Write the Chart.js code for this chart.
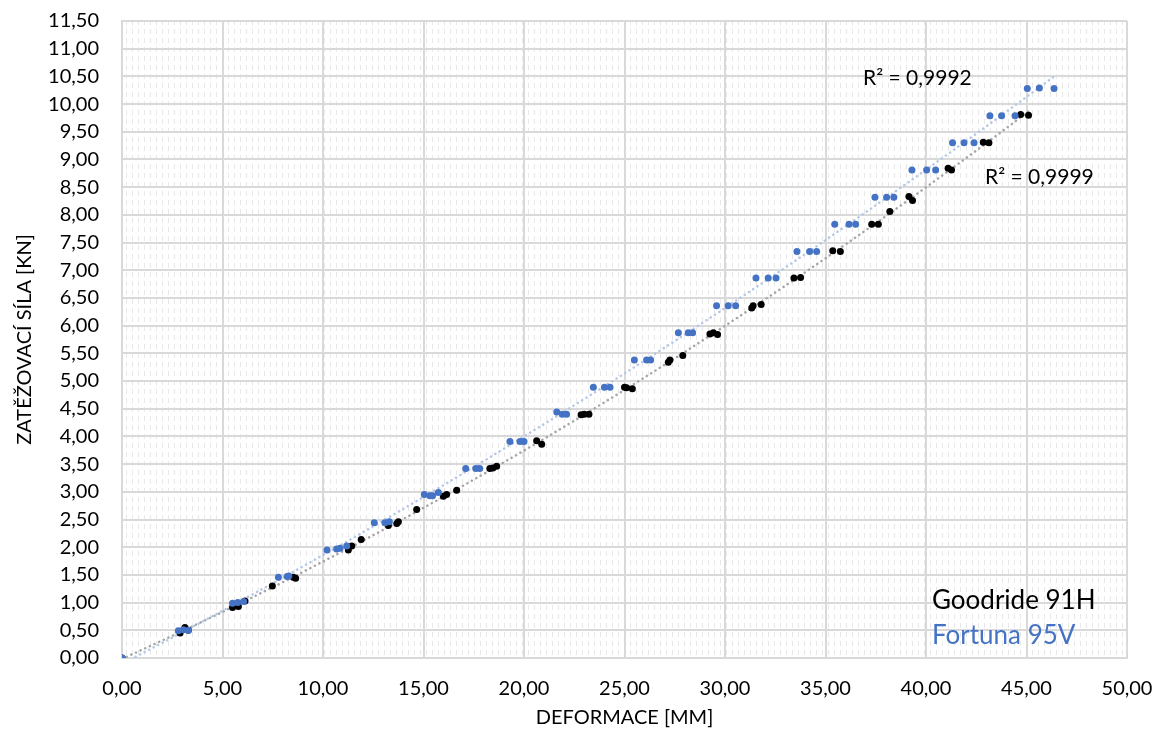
<!DOCTYPE html>
<html>
<head>
<meta charset="utf-8">
<script src="https://cdn.jsdelivr.net/npm/chart.js@4.4.1/dist/chart.umd.min.js"></script>
<style>
  html, body { margin: 0; padding: 0; background: #fff; }
  #wrap { width: 1170px; height: 740px; }
</style>
</head>
<body>
<div id="wrap"><canvas id="chart" width="1170" height="740"></canvas></div>
<script>
// Goodride 91H (black) - deformation [mm], force [kN]
const goodrideX = [0, 2.89, 3.13, 3.30, 5.50, 5.79, 6.12, 7.48, 8.52, 8.64, 11.26, 11.43, 11.90,
    13.25, 13.67, 13.75, 14.66, 15.99, 16.15, 16.65, 18.30, 18.45, 18.64, 20.63, 20.88,
    22.84, 23.00, 23.23, 25.00, 25.10, 25.39, 27.18, 27.26, 27.90, 29.25, 29.42, 29.63,
    31.33, 31.40, 31.80, 33.43, 33.76, 35.36, 35.74, 37.30, 37.63, 38.20, 39.15, 39.33,
    41.10, 41.27, 42.85, 43.13, 44.71, 45.10];
const goodrideY = [0, 0.45, 0.55, 0.50, 0.91, 0.93, 1.03, 1.30, 1.46, 1.44, 1.95, 2.02, 2.14,
    2.39, 2.43, 2.46, 2.68, 2.92, 2.95, 3.03, 3.42, 3.43, 3.46, 3.92, 3.86,
    4.39, 4.40, 4.40, 4.89, 4.88, 4.86, 5.34, 5.38, 5.46, 5.85, 5.87, 5.84,
    6.32, 6.36, 6.38, 6.86, 6.87, 7.35, 7.34, 7.83, 7.83, 8.06, 8.33, 8.26,
    8.84, 8.81, 9.31, 9.30, 9.81, 9.80];

// Fortuna 95V (blue)
const fortunaX = [0, 2.80, 3.05, 3.30, 5.50, 5.76, 6.05, 7.78, 8.22, 8.30, 10.20, 10.68, 10.85, 11.18,
    12.55, 13.08, 13.30, 15.04, 15.32, 15.45, 15.74, 17.10, 17.60, 17.80, 19.30, 19.80, 20.00,
    21.63, 21.90, 22.12, 23.45, 24.00, 24.28, 25.49, 26.10, 26.30, 27.68, 28.17, 28.39,
    29.58, 30.16, 30.53, 31.54, 32.15, 32.54, 33.58, 34.21, 34.56, 35.46, 36.17, 36.50,
    37.46, 38.04, 38.40, 39.30, 40.03, 40.48, 41.32, 41.89, 42.39, 43.18, 43.76, 44.43,
    45.04, 45.64, 46.37];
const fortunaY = [0, 0.49, 0.51, 0.50, 0.99, 1.00, 1.02, 1.46, 1.47, 1.48, 1.95, 1.97, 1.98, 2.02,
    2.44, 2.44, 2.46, 2.95, 2.93, 2.93, 2.99, 3.42, 3.42, 3.42, 3.91, 3.91, 3.91,
    4.44, 4.40, 4.40, 4.89, 4.89, 4.89, 5.38, 5.38, 5.38, 5.87, 5.87, 5.87,
    6.36, 6.36, 6.36, 6.86, 6.86, 6.86, 7.34, 7.34, 7.34, 7.83, 7.83, 7.83,
    8.32, 8.32, 8.32, 8.81, 8.81, 8.81, 9.30, 9.30, 9.30, 9.79, 9.79, 9.79,
    10.28, 10.29, 10.28];

const seriesNames = ["Goodride 91H", "Fortuna 95V"];
const r2Labels = ["R\u00B2 = 0,9999", "R\u00B2 = 0,9992"];
const xTitle = "DEFORMACE [MM]";
const yTitle = "ZATĚŽOVACÍ SÍLA [KN]";

const BLUE = '#4472c4';
const FONT = 'Lato, "Open Sans", sans-serif';

function toPoints(xs, ys) {
    return xs.map((x, i) => ({x: x, y: ys[i]}));
}

// 2nd order polynomial trendline (least squares), evaluated at the data's own x values
function trendline(xs, ys) {
    let s = [0, 0, 0, 0, 0], t = [0, 0, 0];
    for (let i = 0; i < xs.length; i++) {
        let p = 1;
        for (let k = 0; k < 5; k++) {
            s[k] += p;
            if (k < 3) t[k] += p * ys[i];
            p *= xs[i];
        }
    }
    let m = [
        [s[0], s[1], s[2], t[0]],
        [s[1], s[2], s[3], t[1]],
        [s[2], s[3], s[4], t[2]]
    ];
    for (let c = 0; c < 3; c++) {
        for (let r = c + 1; r < 3; r++) {
            let f = m[r][c] / m[c][c];
            for (let j = c; j < 4; j++) m[r][j] -= f * m[c][j];
        }
    }
    let coef = [0, 0, 0];
    for (let r = 2; r >= 0; r--) {
        let v = m[r][3];
        for (let j = r + 1; j < 3; j++) v -= m[r][j] * coef[j];
        coef[r] = v / m[r][r];
    }
    let sorted = [...xs].sort((a, b) => a - b);
    return sorted.map(x => ({x: x, y: coef[0] + coef[1] * x + coef[2] * x * x}));
}

function fmt(v) {
    return Number(v).toFixed(2).replace('.', ',');
}

// light hatched texture behind the plot
function makePattern(ctx) {
    let c = document.createElement('canvas');
    c.width = 6; c.height = 9;
    let p = c.getContext('2d');
    p.fillStyle = '#e8e8e8';
    p.fillRect(0, 2, 1, 5);
    return ctx.createPattern(c, 'repeat');
}

const backgroundPlugin = {
    id: 'plotBackground',
    beforeDraw(chart) {
        let {ctx, chartArea: a} = chart;
        ctx.save();
        ctx.fillStyle = makePattern(ctx);
        ctx.fillRect(a.left, a.top, a.right - a.left, a.bottom - a.top);
        ctx.restore();
    }
};

const labelsPlugin = {
    id: 'textBoxes',
    afterDraw(chart) {
        let ctx = chart.ctx;
        ctx.save();
        ctx.textBaseline = 'middle';
        ctx.textAlign = 'left';
        ctx.fillStyle = '#000';
        ctx.font = '21px ' + FONT;
        ctx.fillText(r2Labels[1], 863, 78);
        ctx.fillText(r2Labels[0], 985, 177);
        ctx.font = '26px ' + FONT;
        ctx.fillStyle = '#000';
        ctx.fillText(seriesNames[0], 932, 601);
        ctx.fillStyle = BLUE;
        ctx.fillText(seriesNames[1], 932, 636);
        ctx.restore();
    }
};

const config = {
    type: 'scatter',
    data: {
        datasets: [
            {
                label: seriesNames[1],
                data: toPoints(fortunaX, fortunaY),
                backgroundColor: BLUE,
                borderColor: BLUE,
                pointRadius: 3.5,
                pointBorderWidth: 0,
                order: 0
            },
            {
                label: seriesNames[0],
                data: toPoints(goodrideX, goodrideY),
                backgroundColor: '#000',
                borderColor: '#000',
                pointRadius: 3.5,
                pointBorderWidth: 0,
                order: 1
            },
            {
                label: 'trend ' + seriesNames[1],
                data: trendline(fortunaX, fortunaY),
                showLine: true,
                borderColor: '#b4c7e7',
                borderWidth: 2.5,
                borderDash: [0.1, 5],
                borderCapStyle: 'round',
                pointRadius: 0,
                tension: 0,
                order: 2
            },
            {
                label: 'trend ' + seriesNames[0],
                data: trendline(goodrideX, goodrideY),
                showLine: true,
                borderColor: '#a6a6a6',
                borderWidth: 2.5,
                borderDash: [0.1, 5],
                borderCapStyle: 'round',
                pointRadius: 0,
                tension: 0,
                order: 3
            }
        ]
    },
    options: {
        responsive: false,
        animation: false,
        layout: {padding: {left: 0, right: 43, top: 21, bottom: 0}},
        plugins: {
            legend: {display: false},
            tooltip: {enabled: false}
        },
        scales: {
            x: {
                type: 'linear',
                min: 0,
                max: 50,
                ticks: {
                    stepSize: 5,
                    padding: 19,
                    color: '#000',
                    font: {family: FONT, size: 20},
                    callback: v => fmt(v)
                },
                grid: {color: '#d9d9d9', lineWidth: 2, drawTicks: false},
                border: {color: '#d9d9d9', width: 2},
                title: {
                    display: true,
                    text: xTitle,
                    color: '#000',
                    font: {family: FONT, size: 20},
                    padding: {top: 0, bottom: 10}
                },
                afterFit(scale) {
                    scale.height = 82;
                    scale.paddingLeft = 0;
                    scale.paddingRight = 0;
                }
            },
            y: {
                type: 'linear',
                min: 0,
                max: 11.5,
                ticks: {
                    stepSize: 0.5,
                    padding: 23,
                    color: '#000',
                    font: {family: FONT, size: 20},
                    callback: v => fmt(v)
                },
                grid: {color: '#d9d9d9', lineWidth: 2, drawTicks: false},
                border: {color: '#d9d9d9', width: 2},
                title: {
                    display: true,
                    text: yTitle,
                    color: '#000',
                    font: {family: FONT, size: 20},
                    padding: {top: 13, bottom: 0}
                },
                afterFit(scale) {
                    scale.width = 122;
                    scale.paddingTop = 0;
                    scale.paddingBottom = 0;
                }
            }
        }
    },
    plugins: [backgroundPlugin, labelsPlugin]
};

new Chart(document.getElementById('chart'), config);
</script>
</body>
</html>
